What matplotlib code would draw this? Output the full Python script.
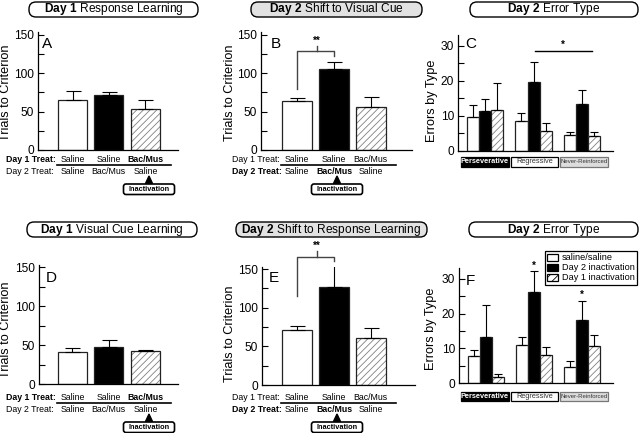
import matplotlib
matplotlib.use('Agg')
import matplotlib.pyplot as plt
from matplotlib.patches import FancyBboxPatch, Rectangle, Polygon, Patch
from matplotlib.lines import Line2D
import numpy as np

plt.rcParams['font.family'] = ['Liberation Sans', 'DejaVu Sans']
plt.rcParams['mathtext.fontset'] = 'custom'
plt.rcParams['mathtext.rm'] = 'Liberation Sans'
plt.rcParams['mathtext.bf'] = 'Liberation Sans:bold'
plt.rcParams['hatch.linewidth'] = 0.6
plt.rcParams['axes.linewidth'] = 0.9

W, H = 640, 433

# trials to criterion (saline/saline, day 2 inactivation, day 1 inactivation)
trials_a = [65, 71, 53]
err_a = [11.3, 4.4, 11.8]
trials_b = [64, 105, 56]
err_b = [4, 9.6, 13]
trials_d = [41, 47.4, 42.3]
err_d = [5.5, 9, 2.1]
trials_e = [71, 127, 61]
err_e = [5.9, 28, 12.5]

error_types = ['Perseverative', 'Regressive', 'Never-Reinforced']
groups = ['saline/saline', 'Day 2 inactivation', 'Day 1 inactivation']

# panel C errors by type
c_saline = [9.6, 8.5, 4.4]
c_saline_err = [3.5, 2.2, 1.0]
c_day2 = [11.3, 19.5, 13.3]
c_day2_err = [3.5, 5.9, 4.0]
c_day1 = [11.5, 5.7, 4.3]
c_day1_err = [7.8, 2.2, 0.9]

# panel F errors by type
f_saline = [7.7, 10.9, 4.8]
f_saline_err = [1.9, 2.5, 1.5]
f_day2 = [13.4, 26.1, 18.3]
f_day2_err = [9.1, 6.1, 5.3]
f_day1 = [1.9, 8.2, 10.6]
f_day1_err = [0.8, 2.3, 3.3]

fig = plt.figure(figsize=(6.4, 4.33), dpi=100)
T = fig.dpi_scale_trans


def P(x, y):
    return x / 100, (H - y) / 100


def px_axes(x0, x1, y0, y1):
    return fig.add_axes([x0 / W, 1 - y1 / H, (x1 - x0) / W, (y1 - y0) / H])


def bar(ax, x, v, e, w, style, cap):
    if style == 'hatch':
        ax.bar(x, v, w, color='white', edgecolor='#808080', hatch='/////', linewidth=0)
        ax.bar(x, v, w, fill=False, edgecolor='#222222', linewidth=0.9)
    else:
        ax.bar(x, v, w, color=style, edgecolor='#222222', linewidth=0.9)
    ax.errorbar(x, v, yerr=[[0], [e]], color='black', capsize=cap, lw=0.8, capthick=0.8)


def style(ax, ylim, major, minor):
    ax.set_ylim(*ylim)
    ax.spines[['top', 'right']].set_visible(False)
    ax.set_yticks(major)
    ax.set_yticks(minor, minor=True)
    ax.tick_params(axis='y', which='both', direction='in', length=4, width=0.8,
                   labelsize=8.6, pad=3)
    ax.tick_params(axis='x', bottom=False, labelbottom=False)


def title_box(x0, x1, y0, y1, bold, rest, fill):
    fig.add_artist(FancyBboxPatch(P(x0, y1), (x1 - x0) / 100, (y1 - y0) / 100,
                                  boxstyle='round,pad=0,rounding_size=0.07',
                                  transform=T, facecolor=fill, edgecolor='black', lw=1))
    cx, cy = P((x0 + x1) / 2, (y0 + y1) / 2)
    fig.text(cx, cy, r'$\mathbf{' + bold.replace(' ', r'\ ') + '}$ ' + rest,
             transform=T, ha='center', va='center', fontsize=8.6)


def line(x0, y0, x1, y1, lw=1.0, color='black'):
    a, b = P(x0, y0)
    c, d = P(x1, y1)
    fig.add_artist(Line2D([a, c], [b, d], transform=T, color=color, lw=lw))


def treat_labels(xl, xs, y1, d1, d2, bold1, bold2, line_x, inact_x):
    x, y = P(xl, y1)
    fig.text(x, y, 'Day 1 Treat:', transform=T, fontsize=6.3,
             fontweight='bold' if bold1 else 'normal', va='baseline')
    x, y = P(xl, y1 + 11.7)
    fig.text(x, y, 'Day 2 Treat:', transform=T, fontsize=6.3,
             fontweight='bold' if bold2 else 'normal', va='baseline')
    for i, cx in enumerate(xs):
        x, y = P(cx, y1)
        fig.text(x, y, d1[i], transform=T, fontsize=6.3, ha='center', va='baseline',
                 fontweight='bold' if (bold1 and d1[i] == 'Bac/Mus') else 'normal')
        x, y = P(cx, y1 + 11.7)
        fig.text(x, y, d2[i], transform=T, fontsize=6.3, ha='center', va='baseline',
                 fontweight='bold' if (bold2 and d2[i] == 'Bac/Mus') else 'normal')
    line(line_x[0], y1 + 3, line_x[1], y1 + 3, lw=1.2)
    # triangle + inactivation box
    ty = y1 + 14
    fig.add_artist(Polygon([P(inact_x, ty), P(inact_x - 3.5, ty + 7.5), P(inact_x + 3.5, ty + 7.5)],
                           closed=True, transform=T, color='black'))
    fig.add_artist(FancyBboxPatch(P(inact_x - 25.5, ty + 18.5), 51 / 100, 10.5 / 100,
                                  boxstyle='round,pad=0,rounding_size=0.025',
                                  transform=T, facecolor='white', edgecolor='black', lw=1.2))
    x, y = P(inact_x, ty + 13.2)
    fig.text(x, y, 'Inactivation', transform=T, fontsize=5.3, fontweight='bold',
             ha='center', va='center')


def category_boxes(y0):
    specs = [(461, 509, 'black', 'black', 'white', 'bold', 5.3),
             (511, 558, 'white', 'black', '#333333', 'normal', 5.3),
             (560, 608, '#dddddd', '#777777', '#333333', 'normal', 4.3)]
    for (x0, x1, fc, ec, tc, fw, fs), name in zip(specs, error_types):
        fig.add_artist(Rectangle(P(x0, y0 + 9.5), (x1 - x0) / 100, 9.5 / 100, transform=T,
                                 facecolor=fc, edgecolor=ec, lw=0.9))
        x, y = P((x0 + x1) / 2, y0 + 4.9)
        fig.text(x, y, name, transform=T, color=tc, fontsize=fs, fontweight=fw,
                 ha='center', va='center')


def ylabel(x, y, s):
    a, b = P(x, y)
    fig.text(a, b, s, transform=T, rotation=90, ha='center', va='center', fontsize=9.2)


def letter(x, y, s):
    a, b = P(x, y)
    fig.text(a, b, s, transform=T, fontsize=11, va='baseline')


styles3 = ['white', 'black', 'hatch']
d1_a = ['Saline', 'Saline', 'Bac/Mus']
d2_a = ['Saline', 'Bac/Mus', 'Saline']

# ---------- trial panels ----------
for vals, errs, box, xl, ylims, ylab_xy, let, let_xy in [
        (trials_a, err_a, (38, 178, 32.5, 150), (-0.95, 2.9), (0, 153), (6, 93), 'A', (42, 48)),
        (trials_b, err_b, (261, 412, 32.5, 150), (-0.98, 3.1), (0, 153), (230, 93), 'B', (271, 48)),
        (trials_d, err_d, (39, 178, 265, 384.3), (-0.92, 2.9), (0, 153), (6, 330), 'D', (46, 282)),
        (trials_e, err_e, (262, 415, 266.7, 385), (-0.95, 3.2), (0, 153), (230, 334), 'E', (269, 282))]:
    ax = px_axes(*box)
    for i in range(3):
        bar(ax, i, vals[i], errs[i], 0.8, styles3[i], 5.4)
    ax.set_xlim(*xl)
    style(ax, ylims, [0, 50, 100, 150], [25, 75, 125])
    ylabel(*ylab_xy, 'Trials to Criterion')
    letter(*let_xy, let)
    if let == 'B':
        ax_b = ax
    if let == 'E':
        ax_e = ax

# significance brackets
for ax, (yl, yt, yr, ym, ys) in [(ax_b, (79.5, 129, 122.6, 135.6, 136)),
                                (ax_e, (115, 165, 160, 173, 173))]:
    ax.plot([0, 0, 1, 1], [yl, yt, yt, yr], color='#444444', lw=1, clip_on=False)
    ax.plot([0.54, 0.54], [yt, ym], color='#444444', lw=1, clip_on=False)
    ax.text(0.54, ys, '**', ha='center', va='bottom', fontsize=7, fontweight='bold')

# ---------- error type panels ----------
for sal, sal_e, d2, d2_e, d1, d1_e, box, ylab_xy, let, let_xy in [
        (c_saline, c_saline_err, c_day2, c_day2_err, c_day1, c_day1_err,
         (458, 613, 35, 150.7), (432, 101), 'C', (465, 48)),
        (f_saline, f_saline_err, f_day2, f_day2_err, f_day1, f_day1_err,
         (459, 613, 268.3, 383.3), (431, 329), 'F', (466, 285))]:
    ax = px_axes(*box)
    x = np.arange(3)
    for i in range(3):
        bar(ax, x[i] - 0.25, sal[i], sal_e[i], 0.25, 'white', 2.6)
        bar(ax, x[i], d2[i], d2_e[i], 0.25, 'black', 2.6)
        bar(ax, x[i] + 0.25, d1[i], d1_e[i], 0.25, 'hatch', 2.6)
    ax.set_xlim(-0.56, 2.64)
    style(ax, (0, 33), [0, 10, 20, 30], [5, 15, 25])
    ylabel(*ylab_xy, 'Errors by Type')
    letter(*let_xy, let)
    if let == 'C':
        ax.plot([1.03, 2.2], [28.5, 28.5], color='black', lw=1)
        ax.text(1.6, 28.7, '*', ha='center', va='bottom', fontsize=7, fontweight='bold')
    else:
        ax.text(1, 32.2, '*', ha='center', va='bottom', fontsize=7, fontweight='bold', clip_on=False)
        ax.text(2, 23.9, '*', ha='center', va='bottom', fontsize=7, fontweight='bold')

category_boxes(157)
category_boxes(391.5)

# ---------- titles ----------
title_box(29, 198, 2, 17, 'Day 1', 'Response Learning', 'white')
title_box(251, 422, 2, 17, 'Day 2', 'Shift to Visual Cue', '#e2e2e2')
title_box(470, 638, 2, 17, 'Day 2', 'Error Type', 'white')
title_box(27, 197, 222, 237, 'Day 1', 'Visual Cue Learning', 'white')
title_box(236, 427, 222, 237, 'Day 2', 'Shift to Response Learning', '#e2e2e2')
title_box(469, 638, 222, 237, 'Day 2', 'Error Type', 'white')

# ---------- treatment labels ----------
treat_labels(6, [72.5, 108.5, 145.5], 162, d1_a, d2_a, True, False, (57, 171), 149)
treat_labels(232, [297, 334, 370.5], 162, d1_a, d2_a, False, True, (281, 396), 337)
treat_labels(6, [72.5, 108.5, 145.5], 400, d1_a, d2_a, True, False, (57, 171), 149)
treat_labels(232, [297, 334, 370.5], 400, d1_a, d2_a, False, True, (281, 396), 337)

# ---------- legend ----------
handles = [Patch(facecolor='white', edgecolor='black', lw=0.9),
           Patch(facecolor='black', edgecolor='black', lw=0.9),
           Patch(facecolor='white', edgecolor='black', hatch='////', lw=0.9)]
leg = fig.legend(handles, groups, loc='upper right', bbox_to_anchor=(637 / W, 1 - 251 / H),
                 fontsize=6.6, frameon=True, fancybox=False, edgecolor='black', framealpha=1,
                 handlelength=1.2, handleheight=0.8, handletextpad=0.4, borderpad=0.25,
                 labelspacing=0.12, borderaxespad=0)
leg.get_frame().set_linewidth(0.9)

fig.savefig('out.png', dpi=100, facecolor='white')
